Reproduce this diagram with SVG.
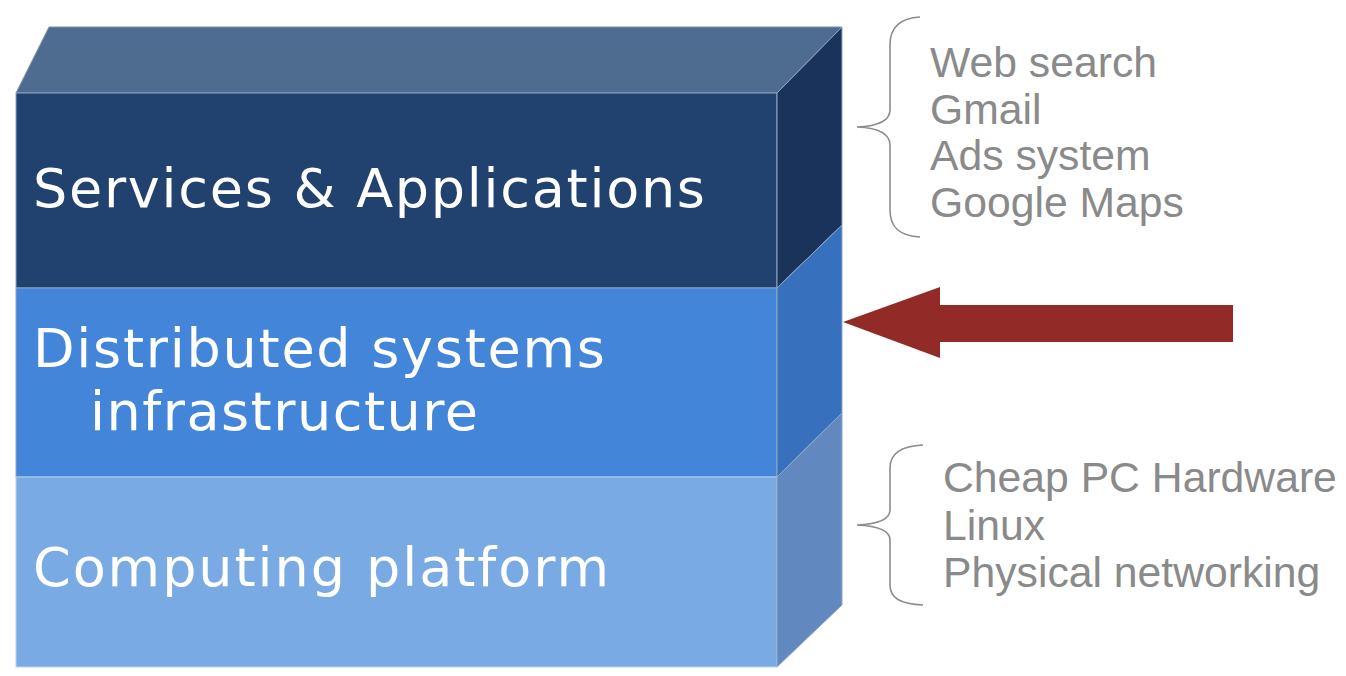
<svg xmlns="http://www.w3.org/2000/svg" width="1346" height="676" viewBox="0 0 1346 676">
<style>
.lbl{font-family:"DejaVu Sans","Verdana",sans-serif;font-size:54px;fill:#ffffff}
.side{font-family:"Liberation Sans",Arial,sans-serif;font-size:42.7px;fill:#8a8a8a}
.brace{fill:none;stroke:#8c8c8c;stroke-width:1.6}
.edge{stroke:#8fa6c4;stroke-width:1}
</style>
<rect width="1346" height="676" fill="#ffffff"/>
<g id="top-face">
<polygon points="49,27 842,27 777,93 16,93" fill="#4e6c8f" stroke="#7d90a8" stroke-width="1"/>
</g>
<g id="services">
<rect x="16" y="93" width="761" height="195" fill="#21416f" class="edge"/>
<polygon points="777,93 842,27 842,225 777,288" fill="#1a335a" class="edge"/>
<text class="lbl" x="33" y="207" textLength="672" lengthAdjust="spacing">Services &amp; Applications</text>
</g>
<g id="distributed">
<rect x="16" y="288" width="761" height="189" fill="#4285d9" class="edge"/>
<polygon points="777,288 842,225 842,413 777,477" fill="#3770bd" class="edge"/>
<text class="lbl" x="33" y="367" textLength="572" lengthAdjust="spacing">Distributed systems</text>
<text class="lbl" x="90" y="430" textLength="388" lengthAdjust="spacing">infrastructure</text>
</g>
<g id="computing">
<rect x="16" y="477" width="761" height="190" fill="#7aaae4" stroke="#bcd2ee" stroke-width="1"/>
<polygon points="777,477 842,413 842,605 777,667" fill="#6189c0" class="edge"/>
<text class="lbl" x="33" y="586" textLength="576" lengthAdjust="spacing">Computing platform</text>
</g>
<g id="apps-list">
<path class="brace" d="M920,17 C900,18 890,28 890,45 L890,110 C890,120 880,126 857,127 C880,128 890,134 890,145 L890,210 C890,228 900,236 920,237"/>
<text class="side" x="930" y="77">Web search</text>
<text class="side" x="930" y="124">Gmail</text>
<text class="side" x="930" y="170">Ads system</text>
<text class="side" x="930" y="217">Google Maps</text>
</g>
<g id="platform-list">
<path class="brace" d="M923,445 C900,446 890,454 890,468 L890,510 C890,519 880,524 857,525 C880,526 890,531 890,540 L890,585 C890,598 900,604 923,605"/>
<text class="side" x="943" y="492">Cheap PC Hardware</text>
<text class="side" x="943" y="540">Linux</text>
<text class="side" x="943" y="587">Physical networking</text>
</g>
<g id="connectors">
<polygon id="arrow" points="843,322 940,287 940,305 1233,305 1233,342 940,342 940,358" fill="#922b27"/>
</g>
</svg>
